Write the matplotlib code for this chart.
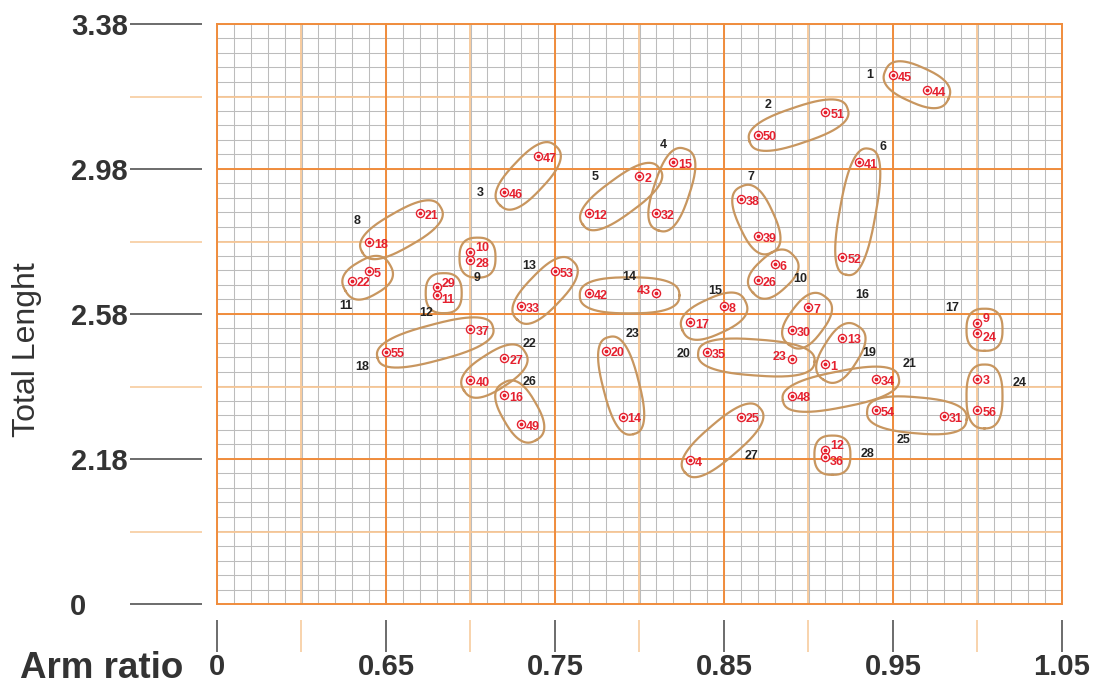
import numpy as np
import matplotlib
matplotlib.use('Agg')
import matplotlib.pyplot as plt
from matplotlib.transforms import ScaledTranslation

plt.rcParams['font.family'] = ['Liberation Sans', 'DejaVu Sans']

# Axis scale: the first tick of each axis is labelled "0" (broken axis)
x_ticks = [0.55, 0.65, 0.75, 0.85, 0.95, 1.05]
x_tick_labels = ['0', '0.65', '0.75', '0.85', '0.95', '1.05']
x_half_ticks = [0.60, 0.70, 0.80, 0.90, 1.00]
y_ticks = [1.78, 2.18, 2.58, 2.98, 3.38]
y_tick_labels = ['0', '2.18', '2.58', '2.98', '3.38']
y_half_ticks = [1.98, 2.38, 2.78, 3.18]

# Points: name, arm ratio, total length, group number
point_names = ['45', '44', '51', '50', '47', '46', '15', '32', '2', '12',
               '41', '52', '38', '39', '21', '18', '10', '28', '6', '26',
               '5', '22', '29', '11', '53', '33', '42', '43', '8', '17',
               '7', '30', '9', '24', '37', '55', '13', '1', '35', '23',
               '34', '48', '27', '40', '20', '14', '3', '56', '54', '31',
               '16', '49', '25', '4', '12', '36']
point_x = [0.95, 0.97, 0.91, 0.87, 0.74, 0.72, 0.82, 0.81, 0.80, 0.77,
           0.93, 0.92, 0.86, 0.87, 0.67, 0.64, 0.70, 0.70, 0.88, 0.87,
           0.64, 0.63, 0.68, 0.68, 0.75, 0.73, 0.77, 0.81, 0.85, 0.83,
           0.90, 0.89, 1.00, 1.00, 0.70, 0.65, 0.92, 0.91, 0.84, 0.89,
           0.94, 0.89, 0.72, 0.70, 0.78, 0.79, 1.00, 1.00, 0.94, 0.98,
           0.72, 0.73, 0.86, 0.83, 0.91, 0.91]
point_y = [3.239, 3.197, 3.138, 3.075, 3.016, 2.917, 2.999, 2.858, 2.961, 2.858,
           2.998, 2.737, 2.897, 2.795, 2.858, 2.778, 2.752, 2.730, 2.717, 2.674,
           2.699, 2.672, 2.654, 2.632, 2.699, 2.602, 2.637, 2.637, 2.601, 2.558,
           2.598, 2.536, 2.556, 2.528, 2.538, 2.476, 2.515, 2.441, 2.474, 2.457,
           2.401, 2.355, 2.458, 2.398, 2.479, 2.297, 2.402, 2.314, 2.314, 2.298,
           2.357, 2.276, 2.297, 2.177, 2.206, 2.186]
point_group = [1, 1, 2, 2, 3, 3, 4, 4, 5, 5,
               6, 6, 7, 7, 8, 8, 9, 9, 10, 10,
               11, 11, 12, 12, 13, 13, 14, 14, 15, 15,
               16, 16, 17, 17, 18, 18, 19, 19, 20, 20,
               21, 21, 22, 22, 23, 23, 24, 24, 25, 25,
               26, 26, 27, 27, 28, 28]
left_labels = ['43', '23']

# Group number labels
group_ids = list(range(1, 29))
group_label_x = [0.936, 0.876, 0.706, 0.814, 0.774, 0.944, 0.866, 0.633, 0.704, 0.895,
                 0.626, 0.674, 0.735, 0.794, 0.845, 0.932, 0.985, 0.636, 0.936, 0.826,
                 0.960, 0.735, 0.796, 1.025, 0.956, 0.735, 0.866, 0.935]
group_label_y = [3.239, 3.156, 2.915, 3.047, 2.958, 3.041, 2.958, 2.837, 2.680, 2.677,
                 2.603, 2.583, 2.713, 2.683, 2.644, 2.632, 2.597, 2.435, 2.473, 2.469,
                 2.441, 2.497, 2.525, 2.389, 2.232, 2.392, 2.188, 2.195]

red = '#e5202e'
blob_color = '#c8965f'
orange = '#f08c3c'
light_orange = '#f7c796'
grid_gray = '#bcbcbc'
text_gray = '#333333'

fig = plt.figure(figsize=(11, 6.91), dpi=100)
ax = fig.add_axes([217 / 1100, 87 / 691, 845 / 1100, 580 / 691])
ax.set_xlim(0.55, 1.05)
ax.set_ylim(1.78, 3.38)

# Graph paper: fine gray grid, light orange halves, strong orange majors
for gx in np.arange(0.55, 1.0501, 0.01):
    ax.axvline(gx, color=grid_gray, lw=0.75, zorder=1)
for gy in np.arange(1.78, 3.3801, 0.04):
    ax.axhline(gy, color=grid_gray, lw=0.75, zorder=1)
for gx in x_half_ticks:
    ax.axvline(gx, color=light_orange, lw=1.3, zorder=2)
for gy in y_half_ticks:
    ax.axhline(gy, color=light_orange, lw=1.3, zorder=2)
for gx in x_ticks:
    ax.axvline(gx, color=orange, lw=1.4, zorder=3, clip_on=False)
for gy in y_ticks:
    ax.axhline(gy, color=orange, lw=1.4, zorder=3, clip_on=False)

# Ticks sit away from the box, labels at their ends
for side in ['top', 'right', 'left', 'bottom']:
    ax.spines[side].set_visible(False)
ax.spines['left'].set_position(('outward', 10.8))
ax.spines['bottom'].set_position(('outward', 11.5))

ax.set_xticks(x_ticks, labels=x_tick_labels)
ax.set_xticks(x_half_ticks, minor=True)
ax.set_yticks(y_ticks, labels=y_tick_labels)
ax.set_yticks(y_half_ticks, minor=True)
ax.tick_params(axis='y', which='both', direction='out', length=51.8, width=1.1, pad=1.5)
ax.tick_params(axis='x', which='both', direction='out', length=23, width=1.1, pad=1)
ax.tick_params(which='major', color='#444444', labelsize=21, labelcolor=text_gray)
ax.tick_params(which='minor', color=light_orange)
for lab in ax.get_xticklabels() + ax.get_yticklabels():
    lab.set_fontweight('bold')
zero_lab = ax.get_yticklabels()[0]
zero_lab.set_transform(zero_lab.get_transform() + ScaledTranslation(-0.42, 0, fig.dpi_scale_trans))

ax.set_xlabel('Arm ratio', fontsize=26.5, fontweight='bold', color=text_gray, ha='right', va='center')
ax.xaxis.set_label_coords(-0.040, -0.112)
ax.set_ylabel('Total Lenght', fontsize=23, color=text_gray, va='center')
ax.yaxis.set_label_coords(-0.225, 0.438)


# Rounded outline around the two points of a group, built in pixel space
def blob(xs, ys, half_w=18, extra=16, shift=(7, -2), n=2.6):
    pts = ax.transData.transform(np.column_stack([xs, ys]))
    p1, p2 = pts[0], pts[1]
    d = p2 - p1
    dist = np.hypot(*d)
    u = d / dist if dist > 1e-6 else np.array([1.0, 0.0])
    v = np.array([-u[1], u[0]])
    c = (p1 + p2) / 2 + np.array(shift)
    a = dist / 2 + extra
    t = np.linspace(0, 2 * np.pi, 200)
    ca, sa = np.cos(t), np.sin(t)
    pa = np.sign(ca) * np.abs(ca) ** (2 / n) * a
    pb = np.sign(sa) * np.abs(sa) ** (2 / n) * half_w
    outline = c + np.outer(pa, u) + np.outer(pb, v)
    return ax.transData.inverted().transform(outline)


point_x = np.array(point_x)
point_y = np.array(point_y)
point_group = np.array(point_group)
for g in group_ids:
    sel = point_group == g
    shape = blob(point_x[sel], point_y[sel])
    ax.plot(shape[:, 0], shape[:, 1], color=blob_color, lw=1.6, zorder=4)

# Red target markers with their numbers
ax.scatter(point_x, point_y, s=34, facecolors='white', edgecolors=red, linewidths=1.0, zorder=5)
ax.scatter(point_x, point_y, s=3, color=red, zorder=6)

# labels of two stacked points in one group are pushed apart a little
label_dy = np.full(len(point_names), -2.0)
for g in group_ids:
    i, j = np.where(point_group == g)[0]
    if point_x[i] == point_x[j] and abs(point_y[i] - point_y[j]) < 0.035:
        top, bottom = (i, j) if point_y[i] > point_y[j] else (j, i)
        label_dy[top] = 2.5
        label_dy[bottom] = -3.5

for name, px, py, dy in zip(point_names, point_x, point_y, label_dy):
    if name in left_labels:
        ax.annotate(name, (px, py), xytext=(-4, 1.5), textcoords='offset points',
                    ha='right', va='center', fontsize=9, fontweight='bold', color=red, zorder=7)
    else:
        ax.annotate(name, (px, py), xytext=(3.5, dy), textcoords='offset points',
                    ha='left', va='center', fontsize=9, fontweight='bold', color=red, zorder=7)

for g, gx, gy in zip(group_ids, group_label_x, group_label_y):
    ax.text(gx, gy, str(g), ha='center', va='center', fontsize=9,
            fontweight='bold', color='#222222', zorder=7, clip_on=False)

fig.savefig('out.png', dpi=100)
